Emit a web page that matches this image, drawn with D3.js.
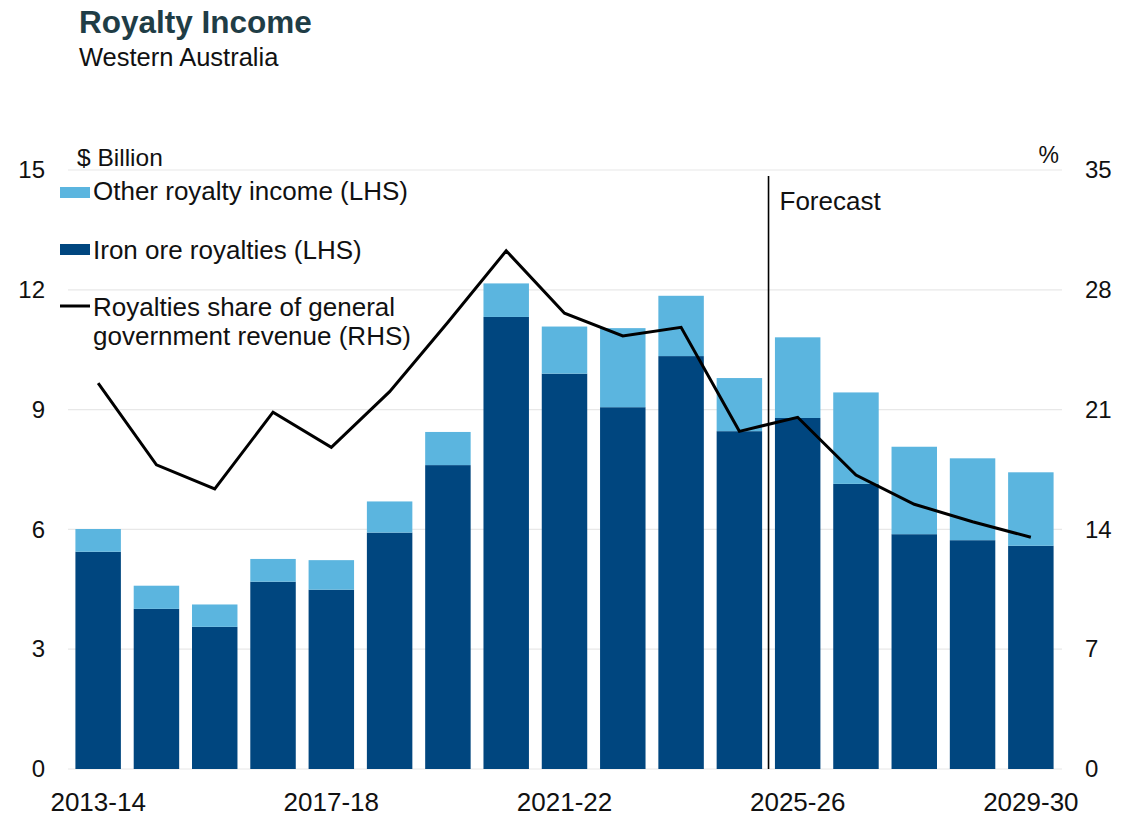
<!DOCTYPE html>
<html>
<head>
<meta charset="utf-8">
<script src="https://cdn.jsdelivr.net/npm/d3@7"></script>
<style>
  html, body { margin: 0; padding: 0; background: #ffffff; }
  svg { display: block; font-family: "Liberation Sans", Arial, Helvetica, sans-serif; }
</style>
</head>
<body>
<svg id="chart" width="1143" height="819"></svg>
<script>
// Financial years
const years = ["2013-14","2014-15","2015-16","2016-17","2017-18","2018-19","2019-20","2020-21",
               "2021-22","2022-23","2023-24","2024-25","2025-26","2026-27","2027-28","2028-29","2029-30"];
// Royalty income, $ billion
const ironOre = [5.44, 4.01, 3.56, 4.69, 4.49, 5.92, 7.61, 11.32, 9.90, 9.06, 10.34, 8.46, 8.79, 7.14, 5.88, 5.73, 5.59];
const otherRoyalty = [0.57, 0.58, 0.56, 0.57, 0.74, 0.78, 0.83, 0.84, 1.18, 1.98, 1.51, 1.33, 2.02, 2.29, 2.19, 2.05, 1.84];
// Royalties share of general government revenue, %
const royaltyShare = [22.54, 17.77, 16.36, 20.85, 18.80, 22.05, 26.10, 30.28, 26.63, 25.30, 25.81, 19.73, 20.55, 17.18, 15.47, 14.45, 13.54];
// Axis ticks
const leftTicks = [0, 3, 6, 9, 12, 15];
const rightTicks = [0, 7, 14, 21, 28, 35];
const xTickLabels = ["2013-14", "2017-18", "2021-22", "2025-26", "2029-30"];
const firstForecastYear = "2025-26";

const colIron = "#00467f";
const colOther = "#5bb5df";

const svg = d3.select("#chart");

const plot = { left: 68, right: 1062, top: 170, bottom: 769 };

const x = d3.scaleBand()
  .domain(years)
  .range([69, 1060])
  .paddingInner(0.22)
  .paddingOuter(0.11);

const yL = d3.scaleLinear().domain([0, 15]).range([plot.bottom, plot.top]);
const yR = d3.scaleLinear().domain([0, 35]).range([plot.bottom, plot.top]);

// Title block
svg.append("text")
  .attr("x", 79).attr("y", 33)
  .attr("font-size", 31.5).attr("font-weight", "bold")
  .attr("fill", "#1f3d46")
  .text("Royalty Income");
svg.append("text")
  .attr("x", 79).attr("y", 66)
  .attr("font-size", 25.5).attr("fill", "#111")
  .text("Western Australia");

// Horizontal gridlines
svg.append("g")
  .selectAll("line")
  .data(leftTicks)
  .join("line")
  .attr("x1", plot.left).attr("x2", plot.right)
  .attr("y1", d => yL(d)).attr("y2", d => yL(d))
  .attr("stroke", "#e8e8e8").attr("stroke-width", 1.2);

// Stacked bars
const rows = years.map((yr, i) => ({ year: yr, iron: ironOre[i], other: otherRoyalty[i] }));
const stacked = d3.stack().keys(["iron", "other"])(rows);
const colours = { iron: colIron, other: colOther };

svg.append("g")
  .selectAll("g")
  .data(stacked)
  .join("g")
  .attr("fill", s => colours[s.key])
  .selectAll("rect")
  .data(s => s)
  .join("rect")
  .attr("x", d => x(d.data.year))
  .attr("width", x.bandwidth())
  .attr("y", d => yL(d[1]))
  .attr("height", d => yL(d[0]) - yL(d[1]));

// Forecast divider
const fx = x(firstForecastYear) - (x.step() - x.bandwidth()) / 2;
svg.append("line")
  .attr("x1", fx).attr("x2", fx)
  .attr("y1", 176).attr("y2", plot.bottom)
  .attr("stroke", "#000").attr("stroke-width", 1.6);
svg.append("text")
  .attr("x", fx + 11).attr("y", 210)
  .attr("font-size", 26).attr("fill", "#111")
  .text("Forecast");

// Royalty share line (RHS)
const line = d3.line()
  .x((d, i) => x(years[i]) + x.bandwidth() / 2)
  .y(d => yR(d));
svg.append("path")
  .datum(royaltyShare)
  .attr("d", line)
  .attr("fill", "none")
  .attr("stroke", "#000")
  .attr("stroke-width", 3)
  .attr("stroke-linejoin", "miter");

// Left axis
const axL = svg.append("g")
  .attr("transform", "translate(45,0)")
  .call(d3.axisLeft(yL).tickValues(leftTicks).tickSize(0).tickPadding(0));
axL.select(".domain").remove();
axL.selectAll("text").attr("font-size", 24).attr("fill", "#111")
  .attr("font-family", "'Liberation Sans', Arial, sans-serif");

// Right axis
const axR = svg.append("g")
  .attr("transform", "translate(1085,0)")
  .call(d3.axisRight(yR).tickValues(rightTicks).tickSize(0).tickPadding(0));
axR.select(".domain").remove();
axR.selectAll("text").attr("font-size", 24).attr("fill", "#111")
  .attr("font-family", "'Liberation Sans', Arial, sans-serif");

// Bottom axis
const axB = svg.append("g")
  .attr("transform", `translate(0,${plot.bottom})`)
  .call(d3.axisBottom(x).tickValues(xTickLabels).tickSize(0).tickPadding(24));
axB.select(".domain").remove();
axB.selectAll("text").attr("font-size", 26).attr("fill", "#111")
  .attr("font-family", "'Liberation Sans', Arial, sans-serif");

// Axis units
svg.append("text")
  .attr("x", 77).attr("y", 166)
  .attr("font-size", 24.5).attr("fill", "#111")
  .text("$ Billion");
svg.append("text")
  .attr("x", 1059).attr("y", 163)
  .attr("text-anchor", "end")
  .attr("font-size", 23).attr("fill", "#111")
  .text("%");

// Legend
const legend = svg.append("g");
legend.append("rect").attr("x", 60).attr("y", 187).attr("width", 30).attr("height", 11).attr("fill", colOther);
legend.append("text").attr("x", 93).attr("y", 200).attr("font-size", 26).attr("fill", "#111")
  .text("Other royalty income (LHS)");
legend.append("rect").attr("x", 60).attr("y", 244).attr("width", 30).attr("height", 11).attr("fill", colIron);
legend.append("text").attr("x", 93).attr("y", 259).attr("font-size", 26).attr("fill", "#111")
  .text("Iron ore royalties (LHS)");
legend.append("line").attr("x1", 60).attr("x2", 90).attr("y1", 306).attr("y2", 306)
  .attr("stroke", "#000").attr("stroke-width", 3);
legend.append("text").attr("x", 93).attr("y", 316).attr("font-size", 26).attr("fill", "#111")
  .text("Royalties share of general");
legend.append("text").attr("x", 93).attr("y", 345).attr("font-size", 26).attr("fill", "#111")
  .text("government revenue (RHS)");
</script>
</body>
</html>
